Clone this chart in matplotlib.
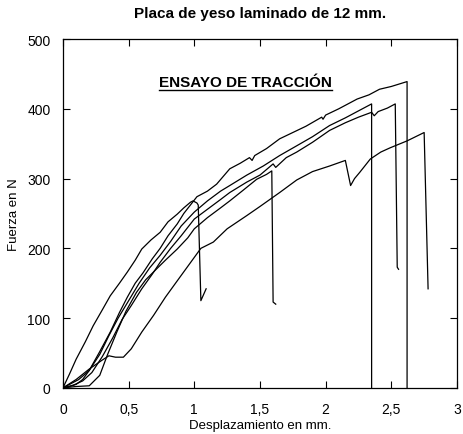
import matplotlib
matplotlib.use('Agg')
import matplotlib.pyplot as plt
import numpy as np

plt.rcParams['font.family'] = ['Liberation Sans', 'DejaVu Sans']

# ensayo 1 - rompe antes (~1,03 mm)
x1 = [0, 0.05, 0.1, 0.17, 0.23, 0.3, 0.36, 0.43, 0.49, 0.55, 0.6, 0.67, 0.74, 0.8, 0.87, 0.92, 0.97, 0.99, 1.02, 1.03, 1.05, 1.09]
y1 = [0, 20, 41, 66, 89, 112, 132, 150, 166, 183, 199, 212, 223, 238, 249, 258, 266, 268, 265, 262, 125, 142]

# ensayo 2 - maximo (~2,62 mm)
x2 = [0, 0.05, 0.1, 0.15, 0.2, 0.28, 0.36, 0.43, 0.49, 0.55, 0.61, 0.68, 0.74, 0.8, 0.87, 0.92, 0.97, 1.02, 1.1, 1.17, 1.27, 1.35, 1.42, 1.44, 1.46, 1.55, 1.65, 1.75, 1.85, 1.97, 1.98, 2.0, 2.1, 2.24, 2.33, 2.41, 2.5, 2.62, 2.62]
y2 = [0, 2, 5, 12, 25, 52, 80, 108, 130, 150, 165, 185, 200, 218, 235, 250, 262, 274, 282, 292, 314, 322, 330, 326, 333, 343, 357, 366, 375, 388, 385, 391, 400, 414, 420, 428, 432, 439, 0]

# ensayo 3 (~2,35 mm)
x3 = [0, 0.06, 0.12, 0.2, 0.28, 0.35, 0.42, 0.5, 0.58, 0.66, 0.74, 0.82, 0.9, 1.0, 1.1, 1.2, 1.27, 1.4, 1.525, 1.65, 1.78, 1.9, 2.03, 2.15, 2.25, 2.35, 2.35]
y3 = [0, 6, 12, 25, 48, 75, 100, 125, 150, 172, 190, 210, 232, 252, 268, 282, 290, 305, 318, 333, 347, 360, 376, 387, 397, 407, 0]

# ensayo 4 (~2,53 mm)
x4 = [0, 0.08, 0.15, 0.22, 0.3, 0.38, 0.45, 0.52, 0.6, 0.68, 0.74, 0.82, 0.9, 1.0, 1.1, 1.2, 1.27, 1.4, 1.5, 1.6, 1.62, 1.7, 1.78, 1.9, 2.03, 2.15, 2.25, 2.35, 2.37, 2.4, 2.47, 2.53, 2.545, 2.555]
y4 = [0, 4, 10, 22, 45, 72, 98, 118, 142, 163, 180, 200, 218, 242, 256, 270, 280, 295, 305, 321, 316, 330, 338, 352, 369, 380, 388, 395, 390, 396, 401, 407, 173, 170]

# ensayo 5 (~1,6 mm)
x5 = [0, 0.1, 0.2, 0.28, 0.34, 0.41, 0.48, 0.56, 0.63, 0.71, 0.78, 0.87, 0.95, 1.0, 1.1, 1.2, 1.27, 1.37, 1.475, 1.55, 1.59, 1.6, 1.62]
y5 = [0, 2, 3, 18, 48, 80, 110, 137, 155, 170, 183, 199, 215, 228, 244, 258, 268, 283, 299, 306, 311, 123, 120]

# ensayo 6 - el mas flexible
x6 = [0, 0.1, 0.2, 0.3, 0.35, 0.4, 0.46, 0.52, 0.6, 0.69, 0.78, 0.88, 1.05, 1.145, 1.25, 1.4, 1.5, 1.65, 1.78, 1.9, 2.03, 2.15, 2.19, 2.22, 2.26, 2.34, 2.42, 2.49, 2.62, 2.75, 2.78]
y6 = [0, 12, 27, 40, 46, 44, 44, 56, 80, 104, 130, 156, 200, 209, 228, 247, 260, 280, 298, 310, 318, 326, 290, 300, 309, 328, 338, 344, 354, 366, 142]

series = [(x1, y1), (x2, y2), (x3, y3), (x4, y4), (x5, y5), (x6, y6)]

fig = plt.figure(figsize=(4.63, 4.35), dpi=100)
ax = fig.add_axes([0.136, 0.106, 0.851, 0.802])

for xs, ys in series:
    ax.plot(xs, ys, color='black', linewidth=0.9)

ax.set_xlim(0, 3)
ax.set_ylim(0, 500)
ax.set_xticks([0, 0.5, 1, 1.5, 2, 2.5, 3])
ax.set_xticklabels(['0', '0,5', '1', '1,5', '2', '2,5', '3'])
ax.set_yticks([0, 100, 200, 300, 400, 500])
ax.tick_params(direction='in', top=True, right=True, length=5, width=0.8,
               labelsize=10)
ax.tick_params(axis='x', pad=10)
ax.tick_params(axis='y', pad=9)
for s in ax.spines.values():
    s.set_linewidth(0.9)

ax.set_xlabel('Desplazamiento en mm.', fontsize=9.5, labelpad=2)
ax.set_ylabel('Fuerza en N', fontsize=9.5, labelpad=5)
fig.suptitle('Placa de yeso laminado de 12 mm.', fontsize=11, fontweight='bold',
             x=0.562, y=0.985)

t = ax.text(1.39, 438, 'ENSAYO DE TRACCIÓN', fontsize=11, fontweight='bold',
            ha='center', va='center')

# subrayado
fig.canvas.draw()
bb = t.get_window_extent(renderer=fig.canvas.get_renderer())
inv = fig.transFigure.inverted()
(x0f, y0f), (x1f, _) = inv.transform([(bb.x0, bb.y0 - 1), (bb.x1, bb.y0 - 1)])
fig.add_artist(plt.Line2D([x0f, x1f], [y0f, y0f], color='black', linewidth=1.0))

fig.savefig('out.png', dpi=100)
